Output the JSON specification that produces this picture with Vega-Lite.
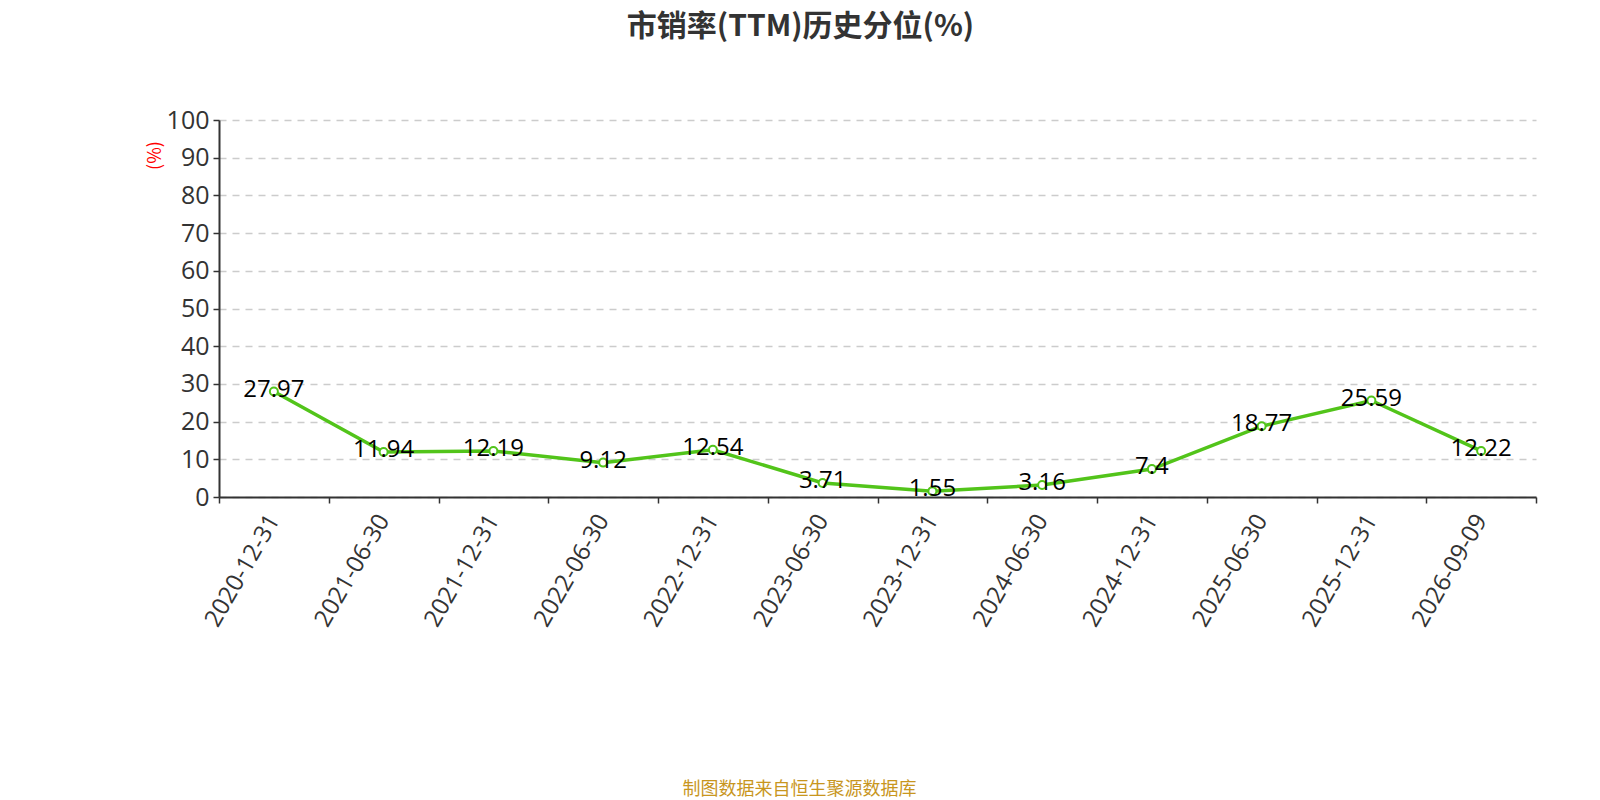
{
  "$schema": "https://vega.github.io/schema/vega-lite/v6.json",
  "autosize": "none",
  "width": 1317,
  "height": 377,
  "padding": {"left": 219, "top": 120, "right": 64, "bottom": 303},
  "background": "#ffffff",
  "title": {
    "text": "市销率(TTM)历史分位(%)",
    "font": "Noto Sans CJK SC",
    "fontSize": 30,
    "fontWeight": "bold",
    "color": "#333333",
    "anchor": "middle",
    "frame": "group",
    "dx": -77,
    "offset": 66
  },
  "data": {
    "values": [
      {"date": "2020-12-31", "pct": 27.97},
      {"date": "2021-06-30", "pct": 11.94},
      {"date": "2021-12-31", "pct": 12.19},
      {"date": "2022-06-30", "pct": 9.12},
      {"date": "2022-12-31", "pct": 12.54},
      {"date": "2023-06-30", "pct": 3.71},
      {"date": "2023-12-31", "pct": 1.55},
      {"date": "2024-06-30", "pct": 3.16},
      {"date": "2024-12-31", "pct": 7.4},
      {"date": "2025-06-30", "pct": 18.77},
      {"date": "2025-12-31", "pct": 25.59},
      {"date": "2026-09-09", "pct": 12.22}
    ]
  },
  "encoding": {
    "x": {
      "field": "date",
      "type": "ordinal",
      "sort": null,
      "scale": {"type": "band", "paddingInner": 0, "paddingOuter": 0},
      "axis": {
        "title": "制图数据来自恒生聚源数据库",
        "titleFont": "Noto Sans CJK SC",
        "titleFontSize": 18,
        "titleFontWeight": "normal",
        "titleColor": "#c8961e",
        "titleX": 580,
        "titleY": 292,
        "titleBaseline": "middle",
        "titleAlign": "center",
        "labelAngle": -60,
        "labelAlign": "right",
        "labelBaseline": "middle",
        "labelFont": "Open Sans",
        "labelFontSize": 24,
        "labelColor": "#333333",
        "labelPadding": 13,
        "tickBand": "extent",
        "tickColor": "#333333",
        "tickSize": 6,
        "tickWidth": 1.5,
        "domainColor": "#333333",
        "domainWidth": 2,
        "grid": false
      }
    },
    "y": {
      "field": "pct",
      "type": "quantitative",
      "scale": {"domain": [0, 100], "nice": false},
      "axis": {
        "values": [0, 10, 20, 30, 40, 50, 60, 70, 80, 90, 100],
        "title": "(%)",
        "titleColor": "#ff0000",
        "titleFont": "Noto Sans CJK SC",
        "titleFontSize": 18,
        "titleFontWeight": "normal",
        "titleX": -64,
        "titleY": 35,
        "titleAlign": "center",
        "titleBaseline": "middle",
        "titleAngle": -90,
        "labelFont": "Open Sans",
        "labelFontSize": 25,
        "labelColor": "#333333",
        "labelPadding": 4,
        "tickColor": "#333333",
        "tickSize": 6,
        "tickWidth": 1.5,
        "domainColor": "#333333",
        "domainWidth": 2,
        "grid": true,
        "gridColor": "#cccccc",
        "gridDash": [7, 6],
        "gridWidth": 1.5
      }
    }
  },
  "layer": [
    {
      "mark": {"type": "line", "color": "#52c41a", "strokeWidth": 3.5}
    },
    {
      "mark": {"type": "point", "shape": "circle", "filled": true, "fill": "#ffffff", "stroke": "#52c41a", "strokeWidth": 2, "size": 64, "opacity": 1}
    },
    {
      "mark": {"type": "text", "font": "Open Sans", "fontSize": 24, "color": "#000000", "baseline": "middle", "align": "center", "dy": -2},
      "encoding": {"text": {"field": "pct", "type": "quantitative"}}
    }
  ],
  "config": {"view": {"stroke": null}}
}
